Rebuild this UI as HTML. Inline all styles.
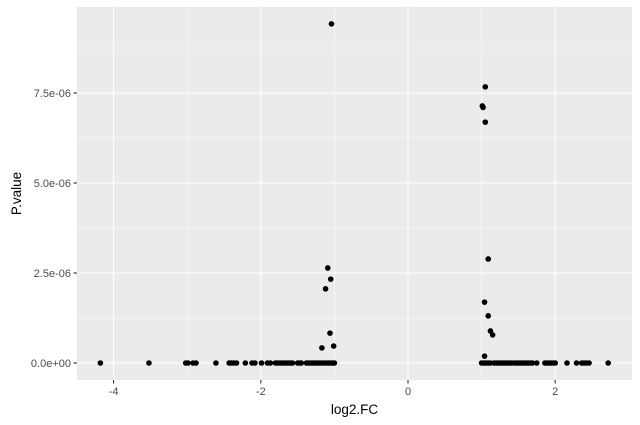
<!DOCTYPE html>
<html><head><meta charset="utf-8"><style>
body{margin:0;background:#fff}
svg{display:block;font-family:"Liberation Sans",sans-serif}
</style></head><body>
<svg id="c" width="640" height="425"></svg>
<script>
const xTicks=[-4,-2,0,2];
const xMinor=[-3,-1,1];
const yTicks=[0,2.5e-6,5e-6,7.5e-6];
const yTickLabels=["0.0e+00","2.5e-06","5.0e-06","7.5e-06"];
const yMinor=[1.25e-6,3.75e-6,6.25e-6,8.75e-6];
const log2FC=[-4.18,-3.52,-3.02,-2.99,-2.92,-2.88,-2.61,-2.43,-2.40,-2.37,-2.33,-2.21,-2.12,-2.08,-1.99,-1.91,-1.87,
-1.80,-1.77,-1.74,-1.71,-1.68,-1.65,-1.62,-1.59,-1.57,-1.50,-1.47,-1.45,
-1.38,-1.35,-1.32,-1.29,-1.26,-1.23,-1.20,-1.17,-1.14,-1.11,-1.08,-1.05,-1.02,-1.00,
1.00,1.03,1.06,1.09,1.12,1.17,1.20,1.23,1.26,1.29,1.32,1.35,1.38,1.41,1.45,1.48,1.51,1.54,1.57,1.60,1.63,1.66,1.69,1.75,1.86,1.89,1.92,1.95,1.98,2.0,2.16,2.29,2.36,2.39,2.42,2.46,2.72,
-1.04,-1.09,-1.05,-1.12,-1.06,-1.01,-1.17,
1.01,1.02,1.05,1.05,1.09,1.04,1.09,1.12,1.15,1.04];
const pValue=[0,0,0,0,0,0,0,0,0,0,0,0,0,0,0,0,0,
0,0,0,0,0,0,0,0,0,0,0,0,
0,0,0,0,0,0,0,0,0,0,0,0,0,0,
0,0,0,0,0,0,0,0,0,0,0,0,0,0,0,0,0,0,0,0,0,0,0,0,0,0,0,0,0,0,0,0,0,0,0,0,0,
9.42e-6,2.64e-6,2.33e-6,2.06e-6,0.83e-6,0.47e-6,0.42e-6,
7.14e-6,7.10e-6,7.67e-6,6.69e-6,2.89e-6,1.69e-6,1.31e-6,0.89e-6,0.78e-6,0.19e-6];
const L=77,R=632,T=7,B=380;
const X=v=>408+v*73.6;
const Y=v=>363-v/2.5e-6*90;
const s=document.getElementById('c');const NS="http://www.w3.org/2000/svg";
function mk(t,a,p){const e=document.createElementNS(NS,t);for(const k in a)e.setAttribute(k,a[k]);(p||s).appendChild(e);return e;}
const bg=mk('rect',{x:L,y:T,width:R-L,height:B-T,fill:'#EBEBEB'});


xMinor.forEach(v=>{const l=mk('line',{x1:X(v),x2:X(v),y1:T,y2:B,stroke:'#fff','stroke-width':0.55});

});
yMinor.forEach(v=>{const l=mk('line',{x1:L,x2:R,y1:Y(v),y2:Y(v),stroke:'#fff','stroke-width':0.55});

});
xTicks.forEach(v=>{const l=mk('line',{x1:X(v),x2:X(v),y1:T,y2:B,stroke:'#fff','stroke-width':1.1});


const tk=mk('line',{x1:X(v),x2:X(v),y1:B,y2:B+3.5,stroke:'#333','stroke-width':1.1});


const t=mk('text',{x:X(v),y:B+15,'text-anchor':'middle','font-size':11,fill:'#4D4D4D'});t.textContent=v;

});
yTicks.forEach((v,i)=>{const l=mk('line',{x1:L,x2:R,y1:Y(v),y2:Y(v),stroke:'#fff','stroke-width':1.1});


const tk=mk('line',{x1:L-3.5,x2:L,y1:Y(v),y2:Y(v),stroke:'#333','stroke-width':1.1});


const t=mk('text',{x:L-6,y:Y(v)+4,'text-anchor':'end','font-size':11,fill:'#4D4D4D'});t.textContent=yTickLabels[i];

});
log2FC.forEach((v,i)=>{const c=mk('circle',{cx:X(v),cy:Y(pValue[i]),r:2.8,fill:'#000'});

});
const xt=mk('text',{x:(L+R)/2,y:414,'text-anchor':'middle','font-size':13.5,fill:'#000'});xt.textContent='log2.FC';


const yt=mk('text',{x:0,y:0,'text-anchor':'middle','font-size':13.5,fill:'#000',transform:`translate(21,${(T+B)/2}) rotate(-90)`});yt.textContent='P.value';


</script>
</body></html>
